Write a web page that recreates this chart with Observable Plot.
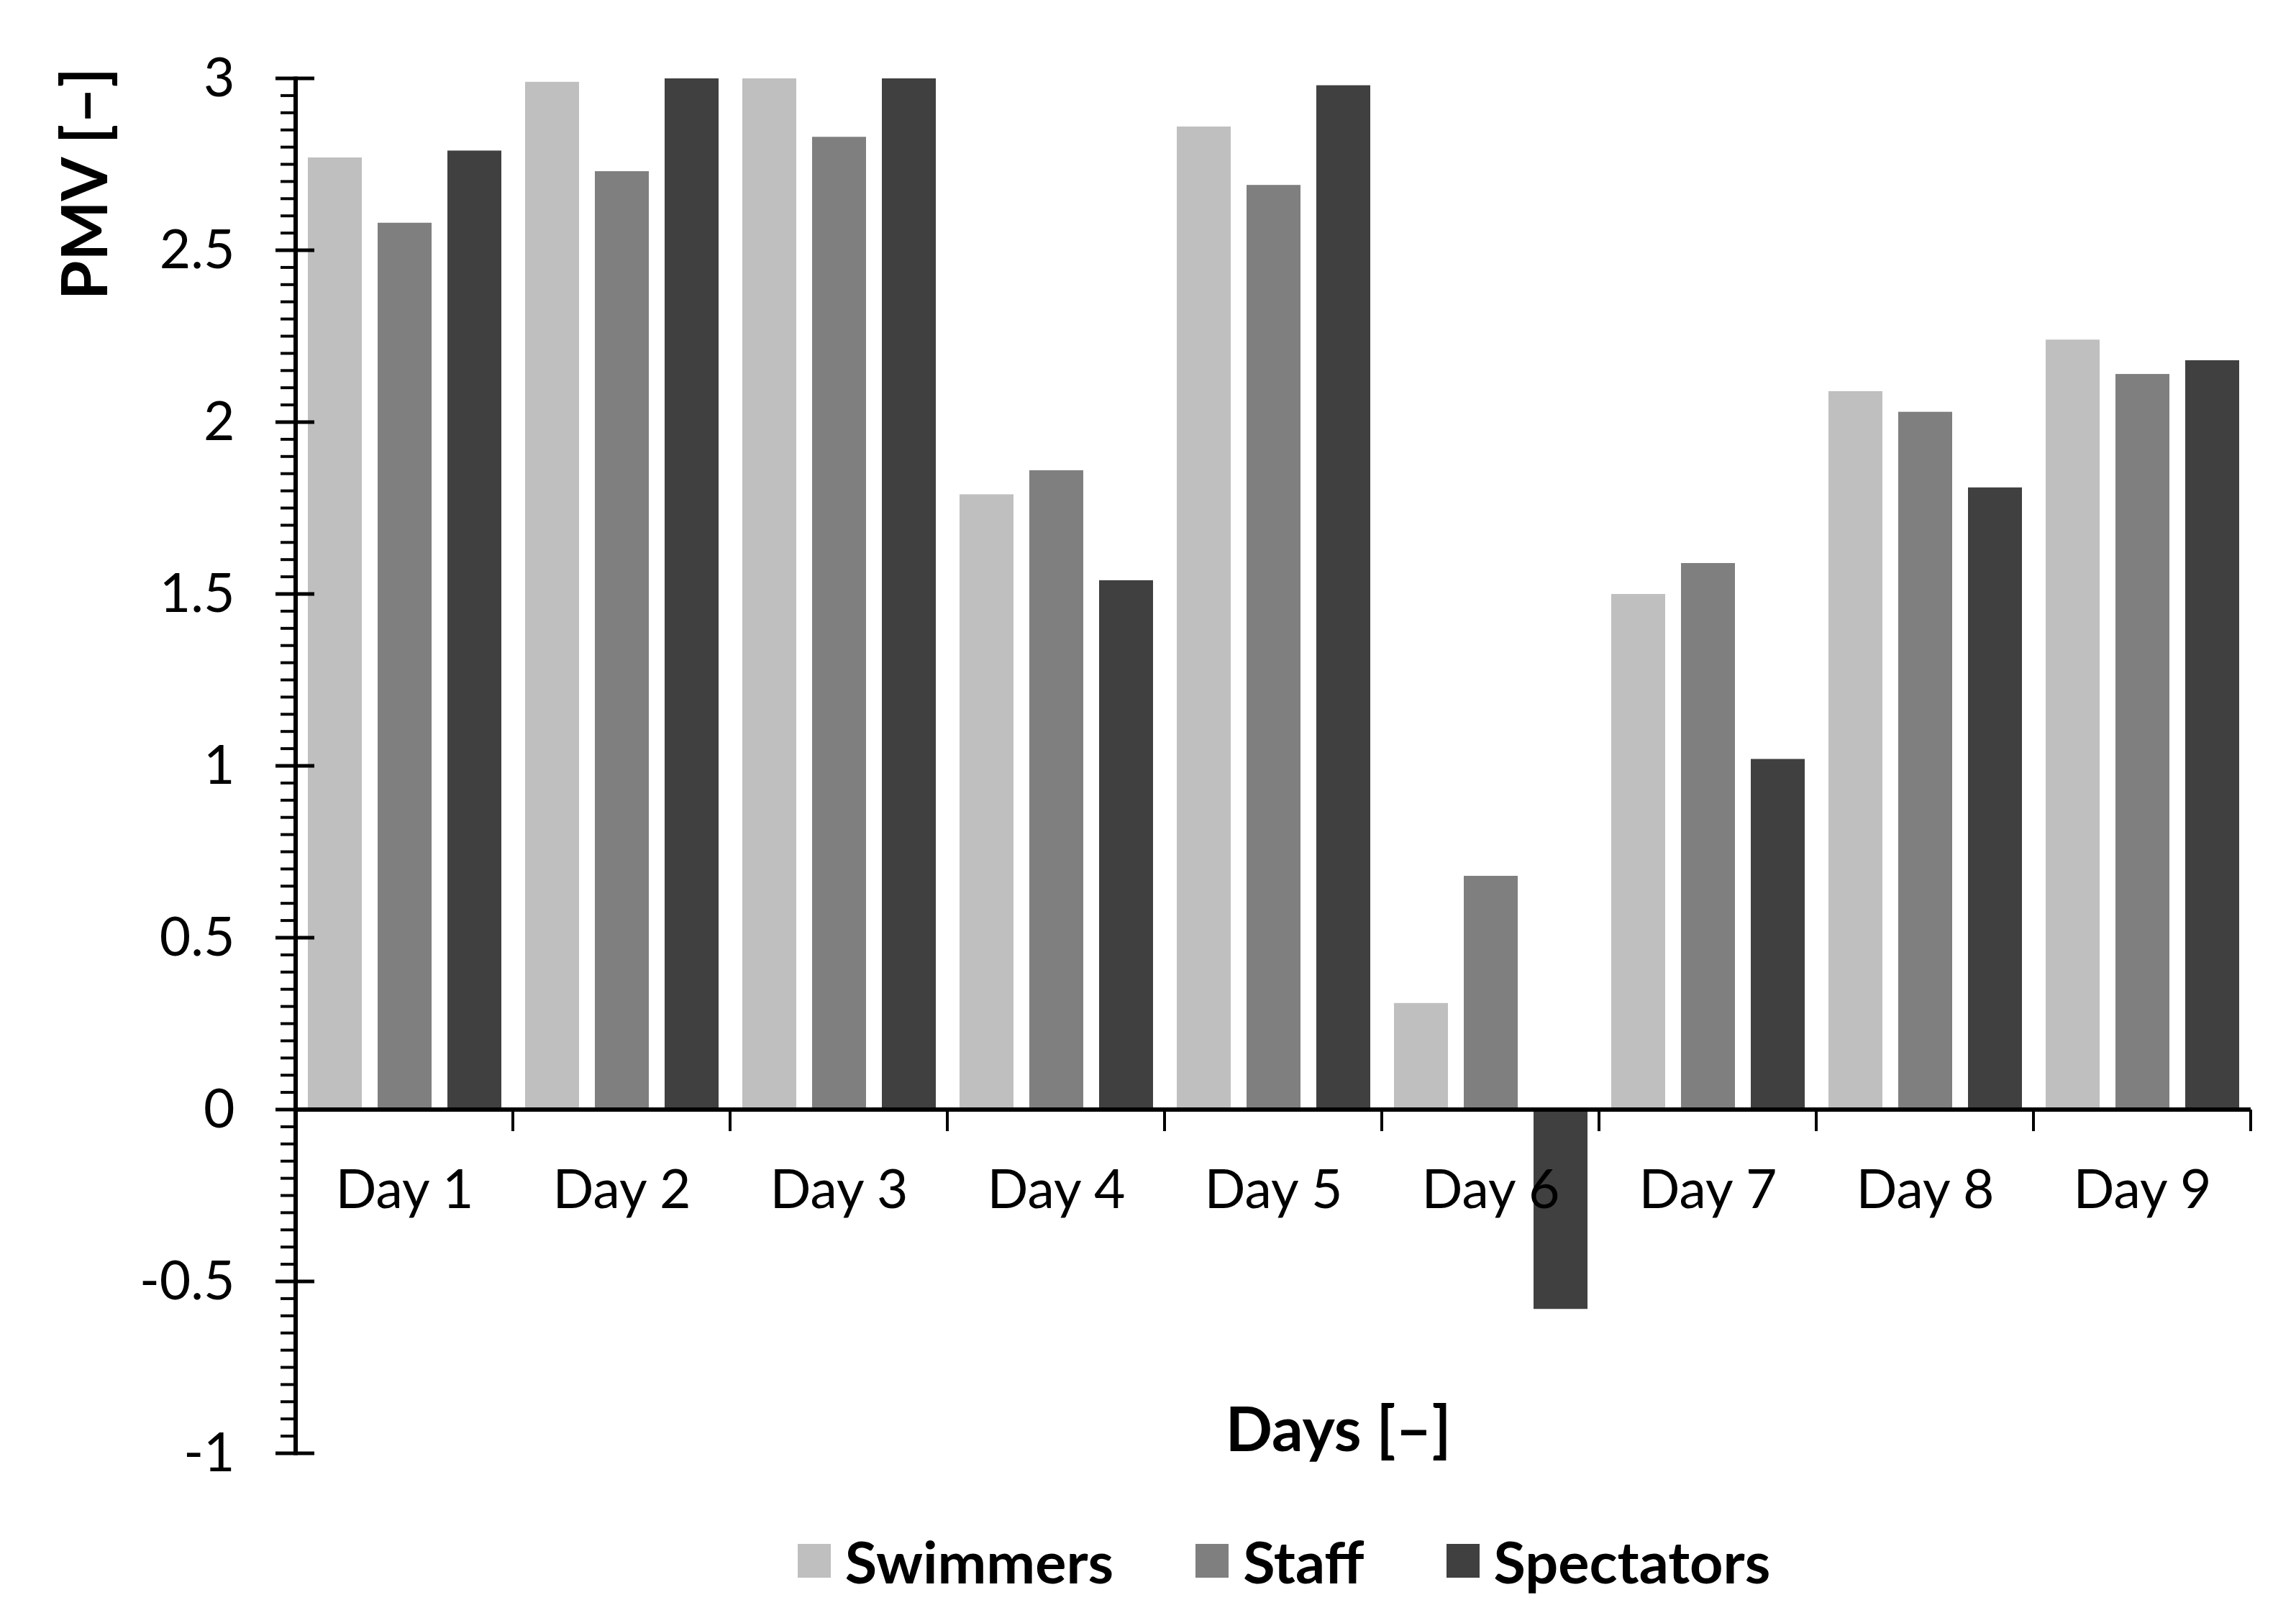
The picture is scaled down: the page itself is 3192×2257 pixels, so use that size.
<!DOCTYPE html>
<html>
<head>
<meta charset="utf-8">
<script src="https://cdn.jsdelivr.net/npm/d3@7"></script>
<script src="https://cdn.jsdelivr.net/npm/@observablehq/plot@0.6"></script>
<style>
  html, body { margin: 0; padding: 0; background: #fff; }
  body { font-family: Lato, "Open Sans", sans-serif; width: 3192px; }
  #legend {
    box-sizing: border-box;
    width: 3192px;
    padding-left: 438px;
    padding-right: 60px;
    display: flex;
    justify-content: center;
    align-items: center;
    gap: 114px;
    height: 160px;
    margin-top: 0px;
  }
  .item { display: flex; align-items: center; gap: 20px; }
  .sw { width: 46px; height: 47px; display: inline-block; }
  .lab { font-weight: 700; font-size: 81px; color: #000; line-height: 1; }
</style>
</head>
<body>
<div id="chart"></div>
<div id="legend"></div>
<script>
// ---- data ----
const days = ["Day 1", "Day 2", "Day 3", "Day 4", "Day 5", "Day 6", "Day 7", "Day 8", "Day 9"];
const series = ["Swimmers", "Staff", "Spectators"];
const swimmers   = [2.77, 2.99, 3.00, 1.79, 2.86, 0.31, 1.50, 2.09, 2.24];
const staff      = [2.58, 2.73, 2.83, 1.86, 2.69, 0.68, 1.59, 2.03, 2.14];
const spectators = [2.79, 3.00, 3.00, 1.54, 2.98, -0.58, 1.02, 1.81, 2.18];
const colors = ["#bfbfbf", "#7f7f7f", "#404040"];
const yTicks = [-1, -0.5, 0, 0.5, 1, 1.5, 2, 2.5, 3];
const yTickLabels = ["-1", "-0.5", "0", "0.5", "1", "1.5", "2", "2.5", "3"];
const yMinorTicks = d3.range(-20, 61).map(k => k / 20);
const xTitle = "Days [–]";
const yTitle = "PMV [–]";

const values = [swimmers, staff, spectators];
const table = [];
days.forEach((d, i) => series.forEach((s, j) => table.push({day: d, series: s, value: values[j][i]})));

// custom axis lines & ticks (Excel style) drawn from the plot's own scales
function excelAxes(index, scales) {
  const {fx, y} = scales;
  const g = d3.create("svg:g").attr("stroke", "#000").attr("fill", "none");
  const bw = fx.bandwidth();
  const left = fx(days[0]);
  const bounds = days.map(d => fx(d)).concat([fx(days[days.length - 1]) + bw]);
  for (const t of yMinorTicks) {
    g.append("line").attr("x1", left - 21).attr("x2", left).attr("y1", y(t)).attr("y2", y(t)).attr("stroke-width", 4);
  }
  for (const t of yTicks) {
    g.append("line").attr("x1", left - 28).attr("x2", left + 26).attr("y1", y(t)).attr("y2", y(t)).attr("stroke-width", 5);
  }
  g.append("line").attr("x1", left).attr("x2", left).attr("y1", y(3) - 2.5).attr("y2", y(-1) + 2.5).attr("stroke-width", 6);
  for (const b of bounds) {
    g.append("line").attr("x1", b).attr("x2", b).attr("y1", y(0)).attr("y2", y(0) + 30).attr("stroke-width", 4);
  }
  g.append("line").attr("x1", left).attr("x2", bounds[bounds.length - 1]).attr("y1", y(0)).attr("y2", y(0)).attr("stroke-width", 6);
  return g.node();
}

const chart = Plot.plot({
  width: 3192,
  height: 2090,
  marginLeft: 408,
  marginRight: 60,
  marginTop: 109,
  marginBottom: 69,
  style: {fontFamily: "Lato, 'Open Sans', sans-serif", background: "#fff", color: "#000"},
  fx: {domain: days, padding: 0, axis: null},
  x: {domain: series, paddingInner: 0.23, paddingOuter: 0.167, axis: null},
  y: {domain: [-1, 3], axis: null},
  color: {domain: series, range: colors},
  marks: [
    Plot.barY(table, {fx: "day", x: "series", y: "value", fill: "series"}),
    Plot.axisY({
      ticks: yTicks,
      tickFormat: (d) => yTickLabels[yTicks.indexOf(d)],
      tickSize: 0,
      tickPadding: 85,
      fontSize: 75,
      label: null
    }),
    Plot.text(days, {fx: (d) => d, y: 0, text: (d) => d, dy: 112, fontSize: 75, fill: "#000", lineAnchor: "middle"}),
    Plot.text([null], {x: null, y: null, text: null, render: excelAxes, facet: "super"}),
    Plot.text([xTitle], {x: null, y: null, facet: "super", frameAnchor: "bottom", text: (d) => d, dx: 90, dy: -31, fontSize: 86, fontWeight: 700, fill: "#000", lineAnchor: "middle"}),
    Plot.text([yTitle], {x: null, y: null, facet: "super", frameAnchor: "top-left", text: (d) => d, dx: -291, dy: 146, rotate: -90, fontSize: 88, fontWeight: 700, fill: "#000", lineAnchor: "middle", textAnchor: "middle"})
  ]
});
document.getElementById("chart").appendChild(chart);

const legend = document.getElementById("legend");
series.forEach((s, i) => {
  const item = document.createElement("div");
  item.className = "item";
  const sw = document.createElement("span");
  sw.className = "sw";
  sw.style.background = colors[i];
  const lab = document.createElement("span");
  lab.className = "lab";
  lab.textContent = s;
  item.appendChild(sw);
  item.appendChild(lab);
  legend.appendChild(item);
});
</script>
</body>
</html>
